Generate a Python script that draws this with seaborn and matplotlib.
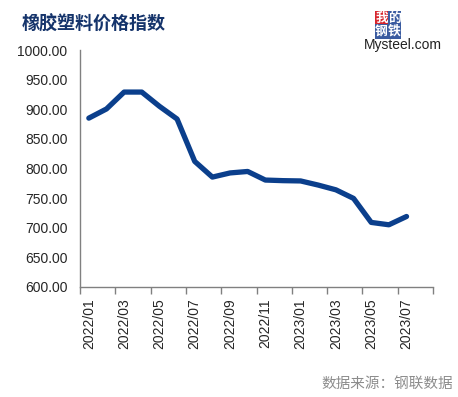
import matplotlib
matplotlib.use("Agg")
import matplotlib.pyplot as plt
import seaborn as sns
import pandas as pd
import numpy as np

months = ["2022/01", "2022/02", "2022/03", "2022/04", "2022/05", "2022/06",
          "2022/07", "2022/08", "2022/09", "2022/10", "2022/11", "2022/12",
          "2023/01", "2023/02", "2023/03", "2023/04", "2023/05", "2023/06",
          "2023/07"]
values = [885, 900.5, 929, 929, 905, 883.5, 812, 785.5, 792.5, 795,
          780.5, 779.5, 779, 772, 764, 749.5, 709, 705, 719]
tick_labels = ["2022/01", "2022/03", "2022/05", "2022/07", "2022/09",
               "2022/11", "2023/01", "2023/03", "2023/05", "2023/07"]
n_categories = 20
y_ticks = [600, 650, 700, 750, 800, 850, 900, 950, 1000]

title = "橡胶塑料价格指数"
source = "数据来源：钢联数据"

sns.set_style("white")
plt.rcParams['font.family'] = ['Liberation Sans', 'Noto Sans CJK SC', 'DejaVu Sans']

df = pd.DataFrame({"idx": np.arange(len(months)), "month": months, "value": values})

fig = plt.figure(figsize=(4.58, 3.97), dpi=100)
ax = fig.add_axes([80/458, 1-287/397, 353/458, 237/397])
sns.lineplot(data=df, x="idx", y="value", ax=ax, color="#0B3F8C", linewidth=3.8,
             solid_capstyle="round", solid_joinstyle="round")

ax.set_xlim(-0.5, n_categories - 0.5)
ax.set_ylim(600, 1000)
ax.set_yticks(y_ticks)
ax.set_yticklabels([f"{v:.2f}" for v in y_ticks], fontsize=10)

label_pos = [months.index(m) for m in tick_labels]
ax.set_xticks(label_pos)
ax.set_xticklabels(tick_labels, rotation=90, fontsize=10)
ax.tick_params(axis="x", which="major", length=0, pad=8)
ax.set_xticks(np.arange(-0.5, n_categories, 2), minor=True)
ax.tick_params(axis="x", which="minor", length=5, color="#808080", width=1, direction="out")
ax.tick_params(axis="y", length=5, color="#808080", width=1, direction="out", pad=4)
ax.xaxis.set_tick_params(bottom=True, which="minor")

for s in ["top", "right"]:
    ax.spines[s].set_visible(False)
for s in ["left", "bottom"]:
    ax.spines[s].set_color("#808080")
    ax.spines[s].set_linewidth(1)
ax.set_xlabel("")
ax.set_ylabel("")
ax.grid(False)

fig.text(22/458, 1-24/397, title, fontsize=13, fontweight="bold", color="#15346B",
         family=['Noto Sans CJK SC'], va="center", ha="left")
fig.text(453/458, 1-384/397, source, fontsize=10.5, color="#8C8C8C",
         family=['Noto Sans CJK SC'], va="center", ha="right")

# logo
logo_chars = [("我", 381.5, 18.5, "#D7262E"), ("的", 394.5, 18.5, "#3A5BA0"),
              ("钢", 381.5, 31.5, "#3A5BA0"), ("铁", 394.5, 31.5, "#3A5BA0")]
for ch, lx, ly, col in logo_chars:
    fig.text(lx/458, 1-ly/397, ch, fontsize=9.2, color="white", fontweight="bold",
             family=['Noto Sans CJK SC'], va="center", ha="center",
             bbox=dict(boxstyle="square,pad=0.04", facecolor=col, edgecolor="none"))
fig.text(403/458, 1-45/397, "Mysteel.com", fontsize=10, color="#222222",
         va="center", ha="center")

fig.savefig("out.png", dpi=100)
